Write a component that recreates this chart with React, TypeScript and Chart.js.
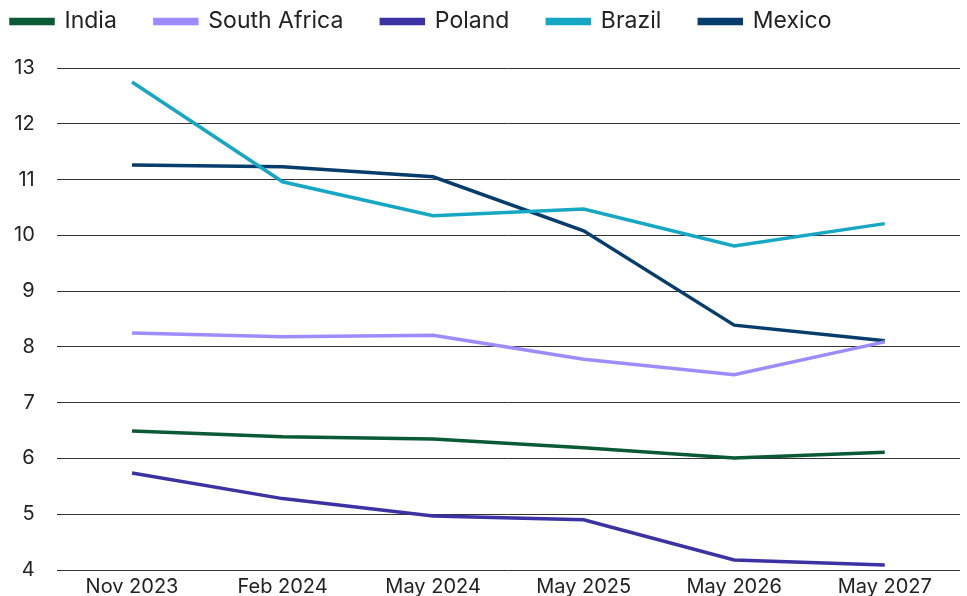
import React, { useEffect, useRef } from "react";
import { Chart, registerables } from "chart.js";

Chart.register(...registerables);

const categories = ["Nov 2023", "Feb 2024", "May 2024", "May 2025", "May 2026", "May 2027"];
const india = [6.49, 6.39, 6.35, 6.19, 6.01, 6.11];
const southAfrica = [8.25, 8.18, 8.21, 7.78, 7.5, 8.09];
const poland = [5.74, 5.28, 4.97, 4.9, 4.18, 4.09];
const brazil = [12.75, 10.96, 10.35, 10.47, 9.81, 10.21];
const mexico = [11.26, 11.23, 11.05, 10.08, 8.39, 8.11];
const yTicks = [4, 5, 6, 7, 8, 9, 10, 11, 12, 13];

const FONT = "Inter, 'Noto Sans', sans-serif";

const legendTweak = {
  id: "legendTweak",
  beforeInit(chart: any) {
    const lg = chart.legend;
    if (!lg) return;
    const orig = lg.fit;
    lg.fit = function () {
      orig.call(this);
      this.height += 25;
    };
  },
  beforeDraw(chart: any) {
    const lg = chart.legend;
    if (lg) {
      const w = lg.right - lg.left;
      lg.left = -27;
      lg.right = lg.left + w;
    }
  },
};

export default function App() {
  const ref = useRef<HTMLCanvasElement | null>(null);
  useEffect(() => {
    document.body.style.margin = "0";
    const ds = (label: string, data: number[], color: string) => ({
      label,
      data,
      borderColor: color,
      backgroundColor: color,
      borderWidth: 3.5,
      pointRadius: 0,
      tension: 0,
      fill: false,
    });
    const chart = new Chart(ref.current!, {
      type: "line",
      data: {
        labels: categories,
        datasets: [
          ds("India", india, "#0b5a36"),
          ds("South Africa", southAfrica, "#9d8cff"),
          ds("Poland", poland, "#3b32a3"),
          ds("Brazil", brazil, "#16a7c4"),
          ds("Mexico", mexico, "#073d6c"),
        ],
      },
      plugins: [legendTweak],
      options: {
        animation: false,
        responsive: false,
        maintainAspectRatio: false,
        layout: { padding: { left: -8, right: 7, top: -28, bottom: 0 } },
        plugins: {
          legend: {
            position: "top",
            align: "start",
            labels: {
              boxWidth: 42,
              boxHeight: 4,
              padding: 38,
              color: "#222",
              font: { family: FONT, size: 23 },
            },
          },
          tooltip: { enabled: false },
        },
        scales: {
          x: {
            offset: true,
            grid: { display: false },
            border: { display: false },
            ticks: { color: "#222", font: { family: FONT, size: 20 }, padding: -3 },
          },
          y: {
            min: 4,
            max: 13,
            afterBuildTicks: (axis: any) => {
              axis.ticks = yTicks.map((v) => ({ value: v }));
            },
            grid: { color: "#333", lineWidth: 1, drawTicks: false },
            border: { display: false },
            ticks: { color: "#222", font: { family: FONT, size: 20 }, padding: 22 },
          },
        },
      },
    });
    return () => chart.destroy();
  }, []);
  return (
    <div style={{ width: 967, height: 604 }}>
      <canvas ref={ref} width={967} height={604} style={{ display: "block" }} />
    </div>
  );
}
